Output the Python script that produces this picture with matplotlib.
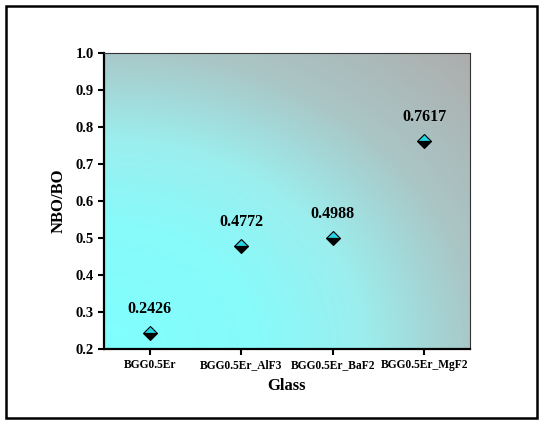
import numpy as np
import matplotlib
matplotlib.use("Agg")
import matplotlib.pyplot as plt
from matplotlib.colors import LinearSegmentedColormap
from matplotlib.patches import Rectangle

categories = ["BGG0.5Er", "BGG0.5Er_AlF3", "BGG0.5Er_BaF2", "BGG0.5Er_MgF2"]
values = [0.2426, 0.4772, 0.4988, 0.7617]
labels = ["0.2426", "0.4772", "0.4988", "0.7617"]
yticks = [0.2, 0.3, 0.4, 0.5, 0.6, 0.7, 0.8, 0.9, 1.0]

plt.rcParams['font.family'] = ['Liberation Serif', 'DejaVu Serif']
plt.rcParams['font.weight'] = 'bold'

fig = plt.figure(figsize=(5.5, 4.24), dpi=100)
fig.patch.set_facecolor('white')
fig.patches.append(Rectangle((6/550, 1-418/424), 531/550, 412/424, transform=fig.transFigure,
                             fill=False, edgecolor='black', linewidth=1.8, zorder=0))

ax = fig.add_axes([104/550, 1-349/424, 366/550, 296/424])

# background gradient (radial from bottom-left)
n = 300
gx, gy = np.meshgrid(np.linspace(0, 1, n), np.linspace(0, 1, n))
r = np.sqrt(gx**2 + gy**2) / np.sqrt(2)
cmap = LinearSegmentedColormap.from_list('bg', [
    (0.0, '#80FFFF'), (0.3, '#88FAFA'), (0.5, '#9CEEEE'),
    (0.72, '#AAC6C6'), (1.0, '#ADADAD')])
ax.imshow(r, cmap=cmap, origin='lower', extent=[0.5, 4.5, 0.2, 1.0],
          aspect='auto', zorder=0, vmin=0, vmax=1, interpolation='bilinear')

x = np.arange(1, len(categories) + 1)
ax.plot(x, values, linestyle='none', marker='D', markersize=7.5,
        fillstyle='top', markerfacecolor='#22D4E4', markerfacecoloralt='black',
        markeredgecolor='black', markeredgewidth=0.8, zorder=3)
for xi, v, lab in zip(x, values, labels):
    ax.annotate(lab, (xi, v), xytext=(0, 12), textcoords='offset points',
                ha='center', va='bottom', fontsize=11.5, fontweight='bold')

ax.set_xlim(0.5, 4.5)
ax.set_ylim(0.2, 1.0)
ax.set_xticks(x)
ax.set_xticklabels(categories, fontsize=8.3, fontweight='bold')
ax.set_yticks(yticks)
ax.set_yticklabels([f"{t:.1f}" for t in yticks], fontsize=10.5, fontweight='bold')
ax.tick_params(direction='out', length=4, width=1.5, color='black')
ax.set_xlabel("Glass", fontsize=12, fontweight='bold', labelpad=5)
ax.set_ylabel("NBO/BO", fontsize=12, fontweight='bold', labelpad=6)
for s in ['left', 'bottom']:
    ax.spines[s].set_linewidth(1.6)
for s in ['top', 'right']:
    ax.spines[s].set_linewidth(0.8)
    ax.spines[s].set_color('#333333')

fig.savefig('out.png', dpi=100)
